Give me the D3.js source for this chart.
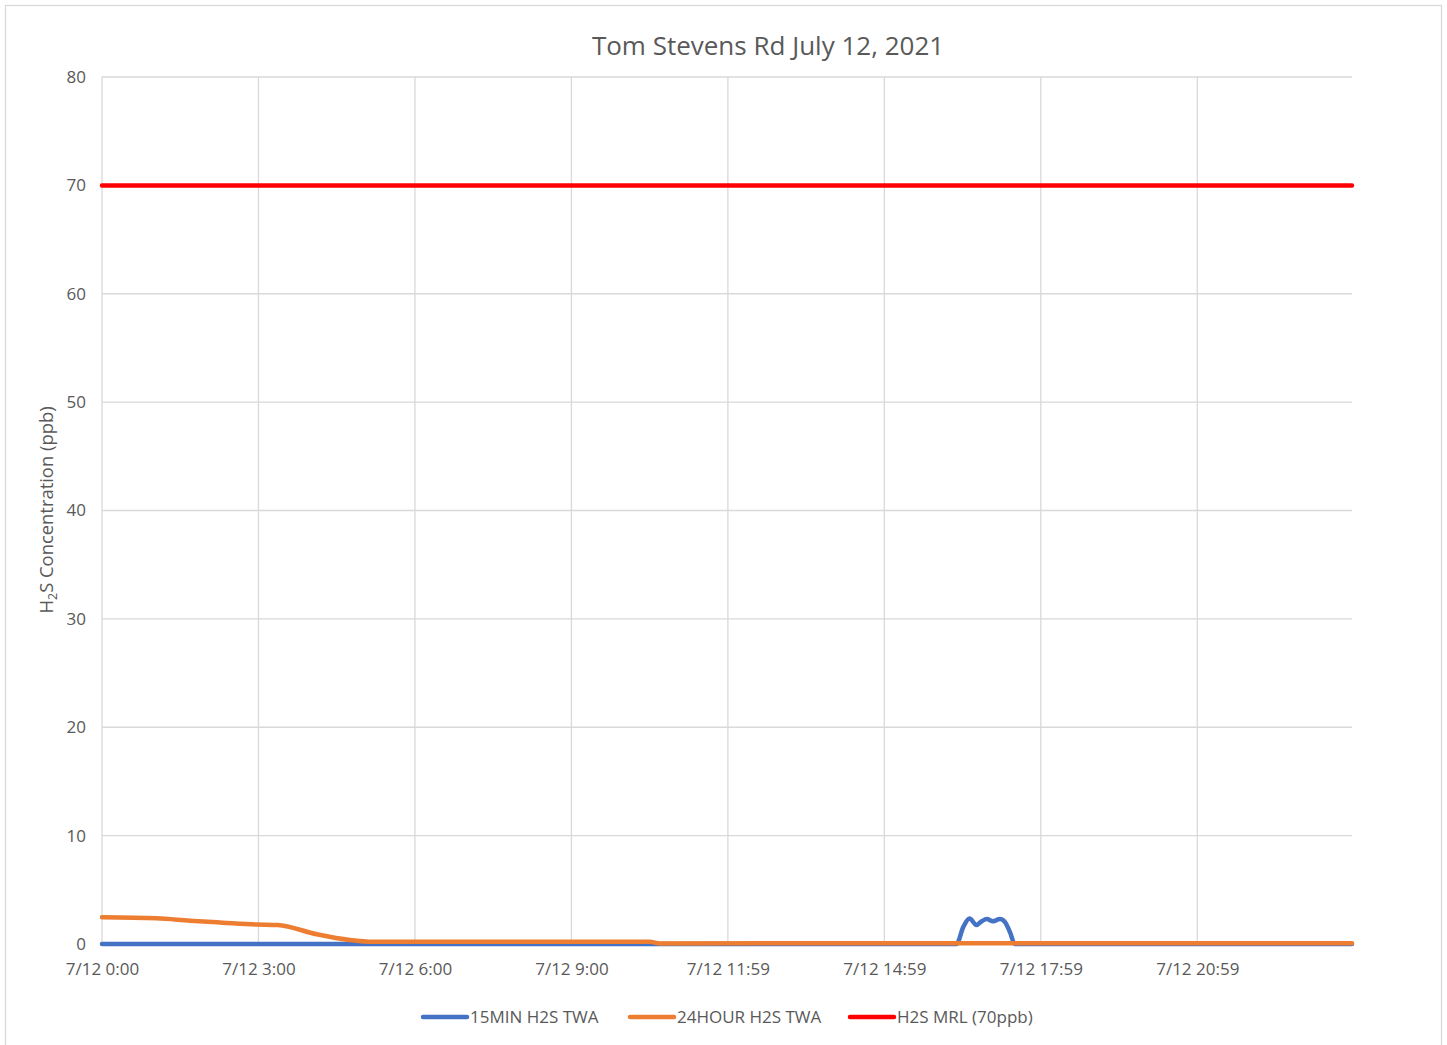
<!DOCTYPE html>
<html><head><meta charset="utf-8">
<script src="https://cdn.jsdelivr.net/npm/d3@7"></script>
<style>body{margin:0;background:#fff;}svg{display:block;font-family:"Open Sans",sans-serif;}</style>
</head><body>
<script>
// ---- data ----
const title = "Tom Stevens Rd July 12, 2021";
const yLabel = "Concentration (ppb)";
const nPoints = 1438; // minutes of data (category index)
const tickIndex = [0, 180, 360, 540, 720, 900, 1080, 1260];
const tickLabels = ["7/12 0:00","7/12 3:00","7/12 6:00","7/12 9:00","7/12 11:59","7/12 14:59","7/12 17:59","7/12 20:59"];
const yTicks = [0,10,20,30,40,50,60,70,80];
// series: [minute index, value]
const min15Idx = [0, 983, 991, 998, 1006, 1012, 1018, 1025, 1033, 1039, 1045, 1050, 1438];
const min15Val = [0, 0, 1.6, 2.35, 1.75, 2.1, 2.3, 2.1, 2.3, 2.0, 1.0, 0, 0];
const hr24Idx = [0, 63, 101, 139, 178, 202, 247, 285, 312, 630, 642, 1040, 1438];
const hr24Val = [2.46, 2.37, 2.15, 1.97, 1.8, 1.75, 0.9, 0.37, 0.2, 0.2, 0.05, 0.08, 0.08];
const mrlIdx = [0, 1438];
const mrlVal = [70, 70];
const seriesNames = ["15MIN H2S TWA", "24HOUR H2S TWA", "H2S MRL (70ppb)"];
const seriesColors = ["#4472c4", "#ed7d31", "#ff0000"];

const W = 1447, H = 1045;
const svg = d3.select("body").append("svg").attr("width", W).attr("height", H);
svg.append("rect").attr("x",5.5).attr("y",5.5).attr("width",1436).attr("height",1045)
  .attr("fill","#fff").attr("stroke","#d9d9d9").attr("stroke-width",1.3);

const L = 102, R = 1352, T = 77, B = 944;
const x = d3.scaleLinear().domain([0, nPoints]).range([L, R]);
const y = d3.scaleLinear().domain([0, 80]).range([B, T]);

// gridlines
const g = svg.append("g");
g.selectAll("line.h").data(yTicks).join("line")
  .attr("x1", L).attr("x2", R).attr("y1", d=>y(d)).attr("y2", d=>y(d))
  .attr("stroke","#d9d9d9").attr("stroke-width",1.3);
g.selectAll("line.v").data(tickIndex).join("line")
  .attr("x1", d=>x(d)).attr("x2", d=>x(d)).attr("y1", T).attr("y2", B)
  .attr("stroke","#d9d9d9").attr("stroke-width",1.3);

// axes
const yAxis = d3.axisLeft(y).tickValues(yTicks).tickSize(0).tickPadding(16);
const ya = svg.append("g").attr("transform",`translate(${L},0)`).call(yAxis);
ya.select(".domain").remove();
ya.selectAll("text").attr("font-size",17).attr("fill","#595959").attr("font-family","Open Sans");

const xAxis = d3.axisBottom(x).tickValues(tickIndex).tickFormat((d,i)=>tickLabels[i]).tickSize(0).tickPadding(19);
const xa = svg.append("g").attr("transform",`translate(0,${B})`).call(xAxis);
xa.select(".domain").remove();
xa.selectAll("text").attr("font-size",17).attr("fill","#595959").attr("font-family","Open Sans");

// lines
const line = d3.line().x(d=>x(d[0])).y(d=>y(d[1])).curve(d3.curveMonotoneX);
const series = [
  d3.zip(min15Idx, min15Val),
  d3.zip(hr24Idx, hr24Val),
  d3.zip(mrlIdx, mrlVal)
];
[0,1,2].forEach(i=>{
  svg.append("path").datum(series[i]).attr("d", line)
    .attr("fill","none").attr("stroke", seriesColors[i]).attr("stroke-width",4.5)
    .attr("stroke-linejoin","round").attr("stroke-linecap","round");
});

// title
svg.append("text").attr("x", 768).attr("y", 55).attr("text-anchor","middle")
  .attr("font-size",26).attr("fill","#595959").text(title);

// y label
const yl = svg.append("text").attr("transform","translate(53,510) rotate(-90)")
  .attr("text-anchor","middle").attr("font-size",18.4).attr("fill","#595959");
yl.append("tspan").text("H");
yl.append("tspan").attr("font-size",12.5).attr("dy",4).text("2");
yl.append("tspan").attr("dy",-4).text("S " + yLabel);

// legend
const legX = [423, 630, 850];
seriesNames.forEach((n,i)=>{
  svg.append("line").attr("x1",legX[i]).attr("x2",legX[i]+44).attr("y1",1017).attr("y2",1017)
    .attr("stroke",seriesColors[i]).attr("stroke-width",4.5).attr("stroke-linecap","round");
  svg.append("text").attr("x",legX[i]+47).attr("y",1023).attr("font-size",17)
    .attr("fill","#595959").text(n);
});
</script>
</body></html>
